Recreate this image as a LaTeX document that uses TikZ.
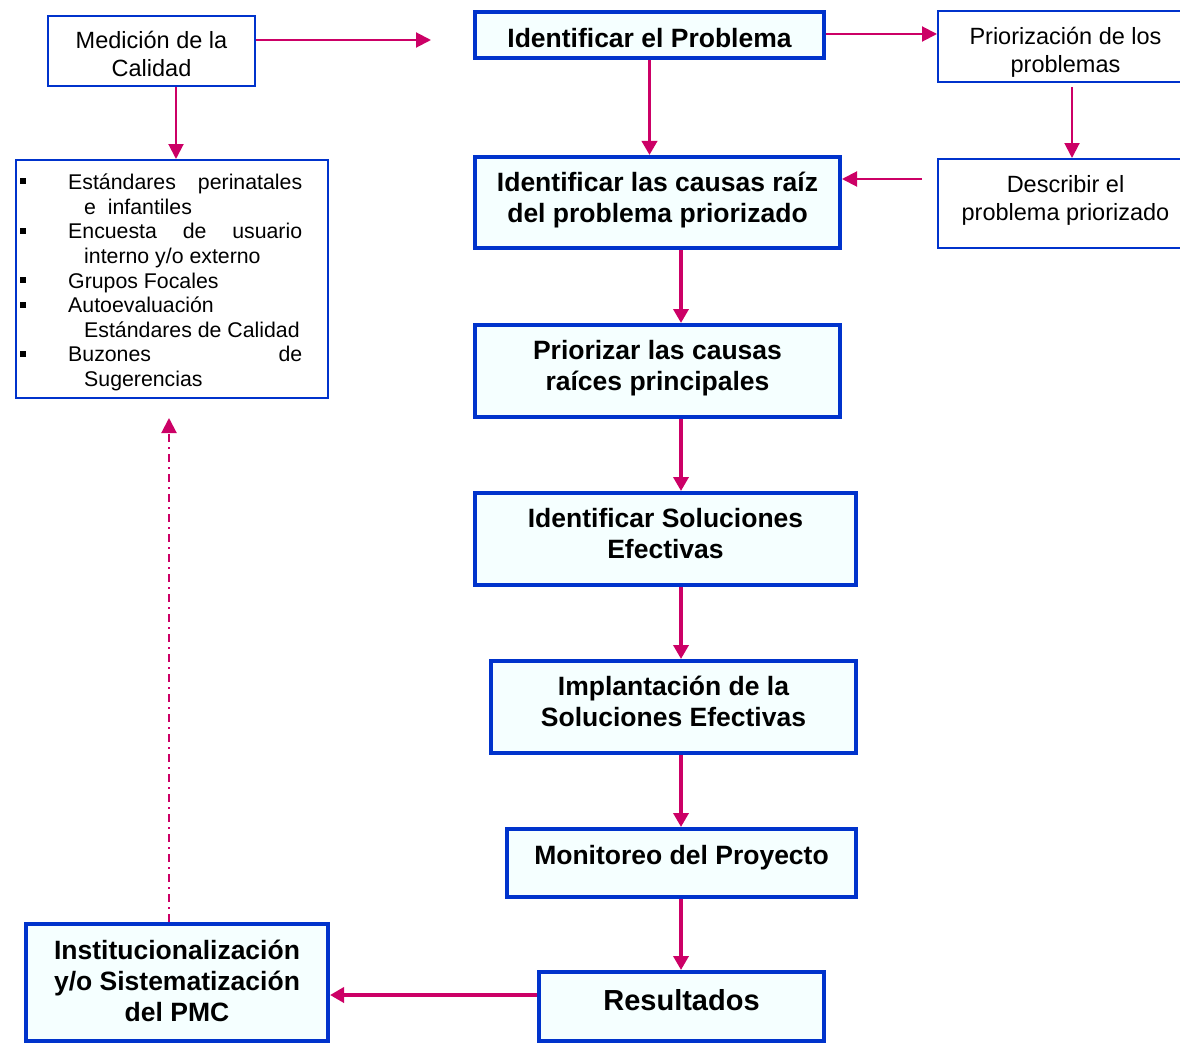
\documentclass[tikz,border=0pt]{standalone}
\usepackage{fontspec}
\setmainfont{Liberation Sans}
\usetikzlibrary{arrows.meta}
\definecolor{pinkc}{HTML}{CC0066}
\definecolor{bluec}{HTML}{0033CC}
\definecolor{fillc}{HTML}{F5FFFF}
\tikzset{
  thickbox/.style={draw=bluec, line width=4pt, fill=fillc, inner sep=0pt},
  thinbox/.style={draw=bluec, line width=2pt, fill=white, inner sep=0pt},
  boldtxt/.style={inner sep=0pt, align=center, font=\fontsize{26.5}{31}\selectfont\bfseries},
  regtxt/.style={inner sep=0pt, align=center, font=\fontsize{23.5}{28}\selectfont},
  conn/.style={draw=pinkc, line width=2pt, -{Triangle[length=15pt,width=15pt]}},
  mainconn/.style={draw=pinkc, line width=3.5pt, -{Triangle[length=14pt,width=15pt]}},
  listtxt/.style={inner sep=0pt, anchor=base west, font=\fontsize{21.3}{24.6}\selectfont},
  bullet/.style={fill=black, inner sep=0pt, minimum size=6pt}
}
\begin{document}
\begin{tikzpicture}[x=1pt,y=-1pt]
\clip (0,0) rectangle (1180,1046);
\fill[white] (0,0) rectangle (1180,1046);
% main column boxes
\node[thickbox, minimum width=349pt, minimum height=46pt] (prob) at (649.5,35) {};
\node[thickbox, minimum width=365pt, minimum height=91pt] (causas) at (657.5,202.5) {};
\node[thickbox, minimum width=365pt, minimum height=92pt] (prio) at (657.5,371) {};
\node[thickbox, minimum width=381pt, minimum height=92pt] (sol) at (665.5,539) {};
\node[thickbox, minimum width=365pt, minimum height=92pt] (impl) at (673.5,707) {};
\node[thickbox, minimum width=349pt, minimum height=68pt] (mon) at (681.5,863) {};
\node[thickbox, minimum width=285pt, minimum height=69pt] (res) at (681.5,1006.5) {};
\node[thickbox, minimum width=302pt, minimum height=117pt] (inst) at (177,982.5) {};
% thin boxes
\node[thinbox, minimum width=207pt, minimum height=70pt] (med) at (151.5,51) {};
\node[thinbox, minimum width=255pt, minimum height=71pt] (priz) at (1065.5,46.5) {};
\node[thinbox, minimum width=255pt, minimum height=89pt] (desc) at (1065.5,203.5) {};
\node[thinbox, minimum width=312pt, minimum height=238pt] (list) at (172,279) {};
% box texts
\node[boldtxt, yshift=-3pt] (probt) at (prob.center) {Identificar el Problema};
\node[boldtxt, yshift=2pt] (causast) at (causas.center) {Identificar las causas raíz\\del problema priorizado};
\node[boldtxt, yshift=3pt] (priot) at (prio.center) {Priorizar las causas\\raíces principales};
\node[boldtxt, yshift=5pt] (solt) at (sol.center) {Identificar Soluciones\\Efectivas};
\node[boldtxt, yshift=6pt] (implt) at (impl.center) {Implantación de la\\Soluciones Efectivas};
\node[boldtxt, yshift=5pt] (mont) at (mon.center) {Monitoreo del Proyecto};
\node[boldtxt, yshift=6pt, font=\fontsize{29}{33}\selectfont\bfseries] (rest) at (res.center) {Resultados};
\node[boldtxt, yshift=2pt] (instt) at (inst.center) {Institucionalización\\y/o Sistematización\\del PMC};
\node[regtxt, yshift=-3pt] (medt) at (med.center) {Medición de la\\Calidad};
\node[regtxt, yshift=-6pt] (prizt) at (priz.center) {Priorización de los\\problemas};
\node[regtxt, yshift=3pt] (desct) at (desc.center) {Describir el\\problema priorizado};
% list content
\node[bullet] (b1) at (23,181) {};
\node[bullet] (b2) at (23,231) {};
\node[bullet] (b3) at (23,280) {};
\node[bullet] (b4) at (23,305) {};
\node[bullet] (b5) at (23,354) {};
\node[listtxt] (l1) at (68,189) {\makebox[234pt][s]{Estándares\hfill perinatales}};
\node[listtxt] (l2) at (84,214) {e\ \ infantiles};
\node[listtxt] (l3) at (68,238) {\makebox[234pt][s]{Encuesta\hfill de\hfill usuario}};
\node[listtxt] (l4) at (84,263) {interno y/o externo};
\node[listtxt] (l5) at (68,288) {Grupos Focales};
\node[listtxt] (l6) at (68,312) {Autoevaluación};
\node[listtxt] (l7) at (84,337) {Estándares de Calidad};
\node[listtxt] (l8) at (68,361) {\makebox[234pt][s]{Buzones\hfill de}};
\node[listtxt] (l9) at (84,386) {Sugerencias};
% helper coordinates
\coordinate (medend) at (431,40);
\coordinate (ptop) at (0,34);
\coordinate (pzx) at (1072,0);
\coordinate (descout) at (922,179);
\coordinate (col) at (681,0);
\coordinate (ry) at (0,995);
\coordinate (dd) at (169,418);
\coordinate (mx) at (176,0);
% connectors
\draw[conn] (med.east |- medend) -- (medend);
\draw[conn] (prob.east |- ptop) -- (priz.west |- ptop);
\draw[mainconn] (prob.south) -- (prob.south |- causas.north);
\draw[conn] ([yshift=-4pt]priz.south -| pzx) -- (desc.north -| pzx);
\draw[conn] (descout) -- (descout -| causas.east);
\draw[mainconn] (causas.south -| col) -- (prio.north -| col);
\draw[mainconn] (prio.south -| col) -- (sol.north -| col);
\draw[mainconn] (sol.south -| col) -- (impl.north -| col);
\draw[mainconn] (impl.south -| col) -- (mon.north -| col);
\draw[mainconn] (mon.south -| col) -- (res.north -| col);
\draw[mainconn] (res.west |- ry) -- (inst.east |- ry);
\draw[conn, dash pattern=on 8pt off 5pt on 2pt off 5pt] (inst.north -| dd) -- (dd);
\draw[conn] (med.south -| mx) -- (list.north -| mx);
\end{tikzpicture}
\end{document}
